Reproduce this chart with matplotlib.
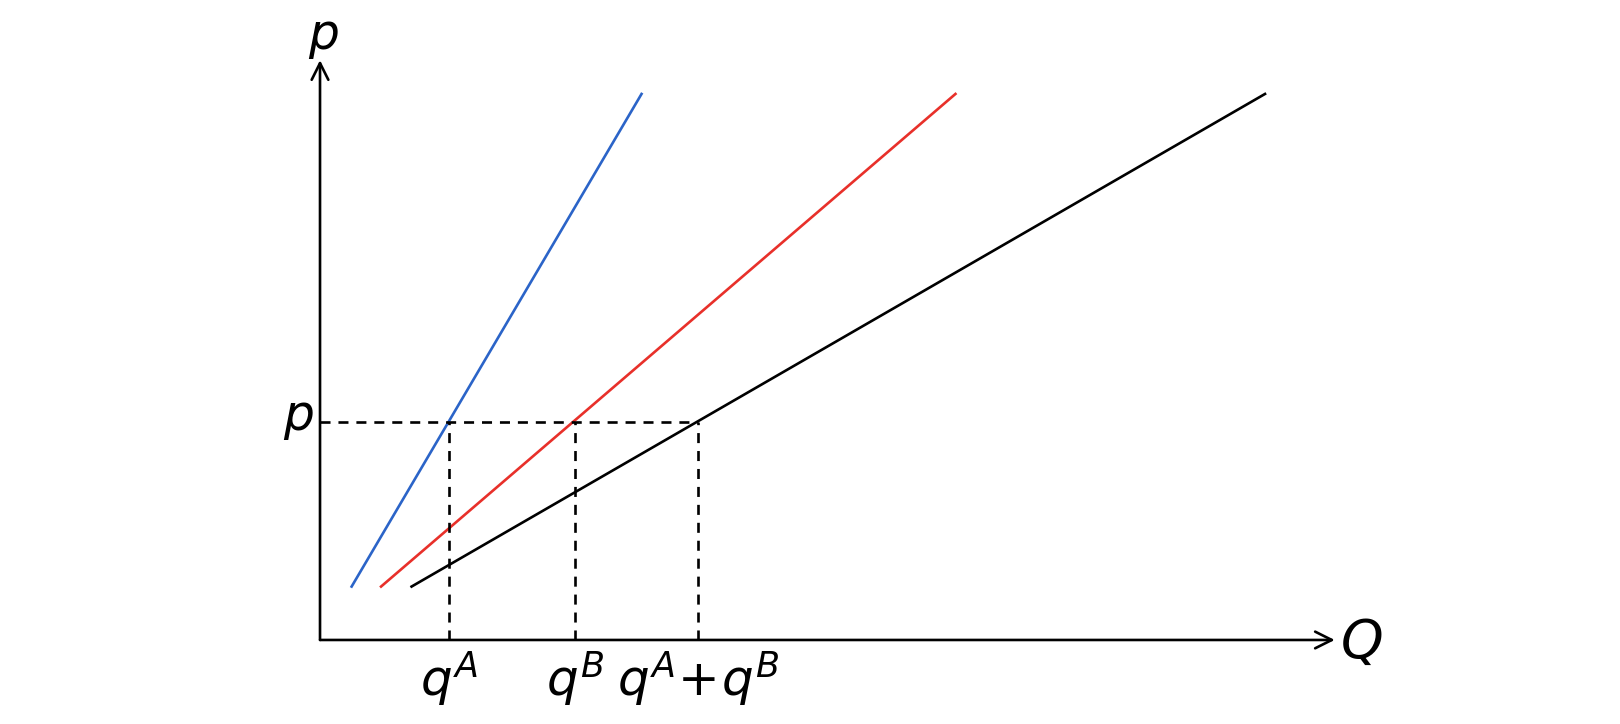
import numpy as np
import matplotlib
matplotlib.use("Agg")
import matplotlib.pyplot as plt

# supply curves: quantity at the lowest and highest price drawn
p_ends = [0.49, 5.01]
supply_A = [0.29, 2.95]     # blue
supply_B = [0.56, 5.83]     # red
supply_sum = [0.84, 8.67]   # black (market)

p_star = 2.0
q_ticks = [1.18, 2.34, 3.47]
q_labels = [r'$q^A$', r'$q^B$', r'$q^A\!+\!q^B$']

fig = plt.figure(figsize=(16.2, 7.24), dpi=100)
ax = fig.add_axes([0, 0, 1, 1])
ax.set_xlim(-2.936, 11.927)
ax.set_ylim(-0.771, 5.872)
ax.axis('off')

# axes with arrow heads
arrow = dict(arrowstyle='->', lw=1.9, color='black', mutation_scale=30,
             shrinkA=0, shrinkB=0)
ax.annotate('', xy=(9.31, 0), xytext=(0, 0), arrowprops=arrow)
ax.annotate('', xy=(0, 5.32), xytext=(0, 0), arrowprops=arrow)

ax.plot(supply_A, p_ends, color='#2b64c8', lw=1.9)
ax.plot(supply_B, p_ends, color='#e8302a', lw=1.9)
ax.plot(supply_sum, p_ends, color='black', lw=1.9)

# dashed guides
dash = dict(color='black', lw=1.9, ls=(0, (3.8, 3.0)))
ax.plot([0, q_ticks[2]], [p_star, p_star], **dash)
for q in q_ticks:
    ax.plot([q, q], [0, p_star], **dash)

ax.text(0.03, 5.42, r'$p$', fontsize=35, ha='center', va='baseline')
ax.text(-0.2, p_star - 0.07, r'$p$', fontsize=35, ha='center', va='baseline')
ax.text(9.55, -0.03, r'$Q$', fontsize=39, ha='center', va='center')
for q, lab in zip(q_ticks, q_labels):
    ax.text(q, -0.52, lab, fontsize=36, ha='center', va='baseline')

fig.savefig('out.png', dpi=100)
